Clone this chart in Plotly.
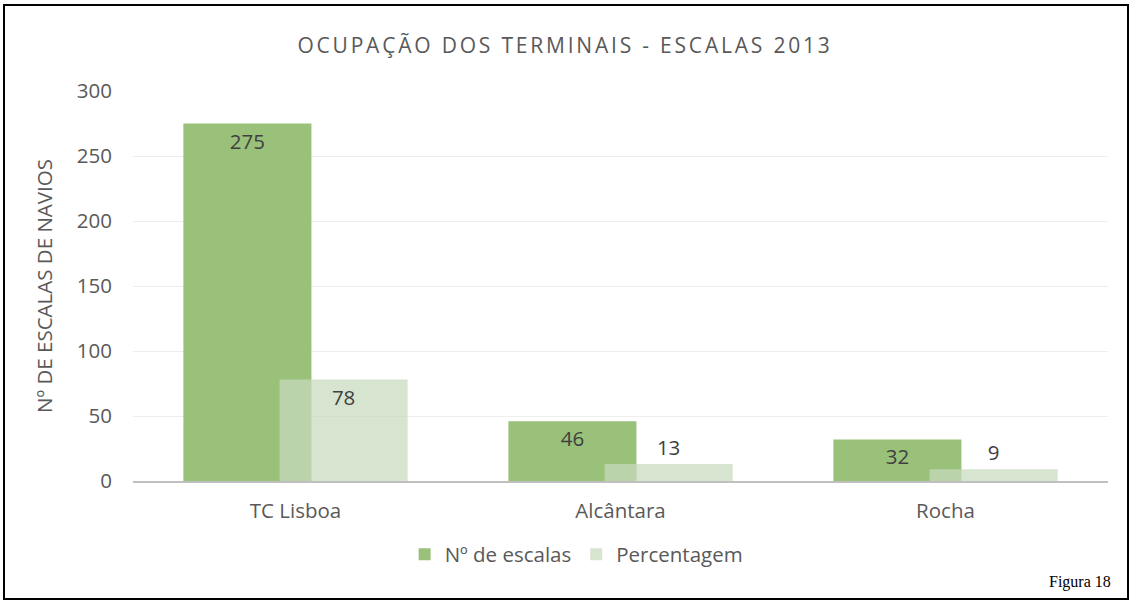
import plotly.graph_objects as go

categories = ["TC Lisboa", "Alcântara", "Rocha"]
escalas = [275, 46, 32]
percentagem = [78, 13, 9]
series_names = ["Nº de escalas", "Percentagem"]
y_ticks = [0, 50, 100, 150, 200, 250, 300]

FONT = "Open Sans"
GREY = "#595959"
FS = 20.5

fig = go.Figure()
fig.add_trace(go.Bar(
    x=categories, y=escalas, name=series_names[0],
    marker=dict(color="#9AC17A", line=dict(width=0)),
    width=0.394, offset=-0.345,
    text=[str(v) for v in escalas], textposition="inside", insidetextanchor="end",
    textangle=0, constraintext="none",
    textfont=dict(family=FONT, size=FS, color="#404040"),
))
fig.add_trace(go.Bar(
    x=categories, y=percentagem, name=series_names[1],
    marker=dict(color="rgba(200,217,188,0.72)", line=dict(width=0)),
    width=0.394, offset=-0.049,
    text=[str(v) for v in percentagem], textposition="auto", insidetextanchor="end",
    textangle=0, constraintext="none",
    insidetextfont=dict(family=FONT, size=FS, color="#404040"),
    outsidetextfont=dict(family=FONT, size=FS, color="#404040"),
))

fig.update_layout(
    width=1130, height=601,
    barmode="overlay",
    paper_bgcolor="white", plot_bgcolor="white",
    margin=dict(l=133, r=22, t=91, b=120),
    title=dict(text="OCUPAÇÃO DOS TERMINAIS - ESCALAS 2013", x=0.5, xanchor="center",
               y=1 - 46 / 601, yanchor="middle",
               font=dict(family=FONT, size=21, color=GREY)),
    font=dict(family=FONT, size=FS, color=GREY),
    showlegend=True,
    legend=dict(orientation="h", x=0.455, xanchor="center", y=-0.137, yanchor="top",
                font=dict(family=FONT, size=FS, color=GREY), traceorder="normal",
                itemwidth=30),
    xaxis=dict(range=[-0.5, 2.5], showgrid=False, showline=True, linecolor="#BFBFBF",
               linewidth=2, ticks="", tickfont=dict(family=FONT, size=FS, color=GREY),
               ticklabelstandoff=10),
    yaxis=dict(range=[0, 300], tickvals=y_ticks, showgrid=True, gridcolor="#EEEEEE",
               gridwidth=1, zeroline=False, showline=False, ticks="",
               tickfont=dict(family=FONT, size=FS, color=GREY), ticklabelstandoff=20,
               title=dict(text="Nº DE ESCALAS DE NAVIOS", standoff=18,
                          font=dict(family=FONT, size=FS, color=GREY))),
    shapes=[dict(type="rect", xref="paper", yref="paper",
                 x0=(4 - 133) / 975, x1=(1128 - 133) / 975,
                 y0=(481 - 599) / 390, y1=(481 - 5) / 390,
                 line=dict(color="black", width=2), fillcolor="rgba(0,0,0,0)", layer="above")],
    annotations=[dict(text="Figura 18", xref="paper", yref="paper",
                      x=(1113 - 133) / 975, y=(481 - 582) / 390, xanchor="right", yanchor="middle",
                      showarrow=False, font=dict(family="Liberation Serif", size=16, color="black"))],
)

post = (
    "document.documentElement.style.margin='0';"
    "document.body.style.margin='0';"
    "document.body.style.overflow='hidden';"
    "var s=document.createElement('style');"
    "s.textContent='.gtitle{letter-spacing:2.8px;}';"
    "document.head.appendChild(s);"
)
fig.write_html("out.html", post_script=post, config={"displayModeBar": False})
